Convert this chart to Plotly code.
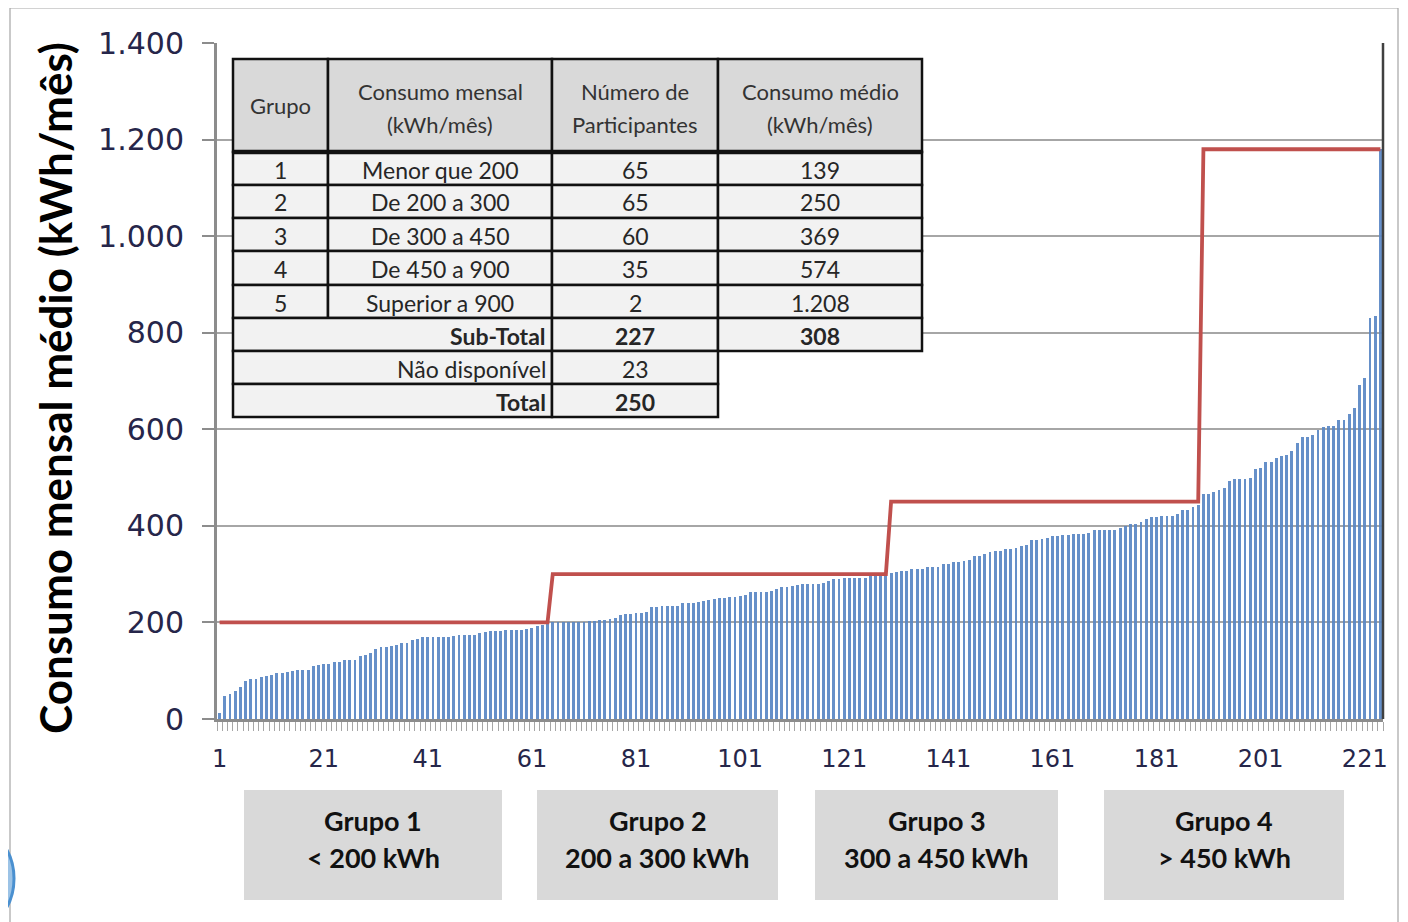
import plotly.graph_objects as go

# ---------------- data ----------------
consumo = [
    12, 47, 51, 58, 67, 78, 83, 83, 87, 90, 92, 95, 96, 97, 99, 101, 102, 102, 110, 111,
    113, 113, 118, 118, 122, 123, 123, 130, 132, 136, 145, 149, 150, 152, 154, 157, 157, 163, 166, 170,
    170, 170, 170, 170, 170, 172, 173, 173, 175, 175, 179, 180, 182, 182, 183, 184, 184, 184, 184, 187,
    189, 193, 195, 199, 200,
    200, 200, 200, 200, 200, 201, 203, 204, 205, 206, 207, 210, 215, 217, 218, 219, 220, 221, 231, 232,
    234, 234, 235, 235, 240, 240, 241, 243, 244, 247, 248, 251, 251, 252, 252, 255, 257, 262, 262, 263,
    263, 266, 269, 274, 274, 275, 277, 279, 279, 280, 280, 281, 285, 290, 290, 291, 291, 292, 292, 293,
    296, 300, 301, 302,
    303, 305, 306, 306, 310, 311, 311, 314, 315, 315, 320, 320, 325, 325, 327, 330, 338, 338, 342, 346,
    347, 347, 352, 353, 354, 358, 360, 370, 370, 373, 375, 378, 378, 382, 382, 384, 384, 384, 386, 391,
    391, 392, 392, 392, 395, 399, 404, 404, 409, 414,
    419, 419, 420, 420, 421, 424, 433, 433, 440, 443, 465, 467, 470, 474, 478, 492, 497, 497, 498, 499,
    517, 520, 532, 532, 540, 544, 547, 556, 571, 583, 584, 588, 599, 605, 607, 607, 619, 619, 631, 644,
    692, 706, 830, 835, 1180,
]
participante = list(range(1, len(consumo) + 1))

limite_niveis = [200, 300, 450, 1180]
limite_tamanhos = [64, 65, 60, 35]
limite = []
for nivel, n in zip(limite_niveis, limite_tamanhos):
    limite += [nivel] * n

y_ticks = [0, 200, 400, 600, 800, 1000, 1200, 1400]
y_tick_labels = ["0", "200", "400", "600", "800", "1.000", "1.200", "1.400"]
x_ticks = [1, 21, 41, 61, 81, 101, 121, 141, 161, 181, 201, 221]
x_tick_labels = [str(v) for v in x_ticks]

tabela_cabecalho = [["Grupo"], ["Consumo mensal", "(kWh/mês)"], ["Número de", "Participantes"],
                    ["Consumo médio", "(kWh/mês)"]]
tabela_grupo = ["1", "2", "3", "4", "5"]
tabela_faixa = ["Menor que 200", "De 200 a 300", "De 300 a 450", "De 450 a 900", "Superior a 900"]
tabela_numero = ["65", "65", "60", "35", "2"]
tabela_media = ["139", "250", "369", "574", "1.208"]
resumo_rotulos = ["Sub-Total", "Não disponível", "Total"]
resumo_numero = ["227", "23", "250"]
resumo_media = ["308", None, None]
resumo_negrito = [True, False, True]

caixas_titulo = ["Grupo 1", "Grupo 2", "Grupo 3", "Grupo 4"]
caixas_faixa = ["&lt; 200 kWh", "200 a 300 kWh", "300 a 450 kWh", "&gt; 450 kWh"]

# ---------------- layout helpers (reference pixel -> paper) ----------------
OFF = 8                      # page body margin of the browser
W, H = 1408 - OFF, 922 - OFF
L, R, T, B = 217, 1383, 43, 719


def px(x):
    return (x - L) / (R - L)


def py(y):
    return (B - y) / (B - T)


fig = go.Figure()
fig.add_bar(x=participante, y=consumo, width=0.55,
            marker=dict(color="#5A87C5", line_width=0), opacity=0.92)
fig.add_scatter(x=participante, y=limite, mode="lines",
                line=dict(color="#C0504D", width=3.8))

shapes = []
annotations = []

# right border of plot area
shapes.append(dict(type="line", xref="paper", yref="paper", x0=1, x1=1, y0=0, y1=1,
                   line=dict(color="#404040", width=2.5)))
# outer frame of the chart
shapes.append(dict(type="rect", xref="paper", yref="paper", x0=px(10), x1=px(1398),
                   y0=py(950), y1=py(8), line=dict(color="#A6A6A6", width=1.2),
                   fillcolor="rgba(0,0,0,0)", layer="below"))
# decorative blue arc bottom-left
shapes.append(dict(type="circle", xref="paper", yref="paper", x0=px(-90), x1=px(14),
                   y0=py(935), y1=py(822), fillcolor="#9CC3E6",
                   line=dict(color="#4A90D0", width=3)))

# ---------------- table ----------------
cols = [233, 328, 552, 718, 922]
rows = [59, 152, 185, 218, 251, 285, 318, 351, 384, 417]
tfont = dict(family="Lato", size=23, color="#262626")
hfont = dict(family="Lato", size=22, color="#333333")
border = dict(color="#111111", width=2.5)


def cell(x0, x1, y0, y1, fill):
    shapes.append(dict(type="rect", xref="paper", yref="paper", x0=px(x0), x1=px(x1),
                       y0=py(y1), y1=py(y0), fillcolor=fill, line=border))


def text(xc, yc, s, bold=False, xanchor="center", font=tfont):
    annotations.append(dict(xref="paper", yref="paper", x=px(xc), y=py(yc),
                            text=("<b>%s</b>" % s) if bold else s, showarrow=False,
                            xanchor=xanchor, yanchor="middle", font=font))


# header
for c in range(4):
    cell(cols[c], cols[c + 1], rows[0], rows[1], "#D9D9D9")
    xc = (cols[c] + cols[c + 1]) / 2
    linhas = tabela_cabecalho[c]
    if len(linhas) == 1:
        text(xc, (rows[0] + rows[1]) / 2, linhas[0], font=hfont)
    else:
        text(xc, 91, linhas[0], font=hfont)
        text(xc, 124, linhas[1], font=hfont)
# data rows
for r in range(5):
    y0, y1 = rows[r + 1], rows[r + 2]
    vals = [tabela_grupo[r], tabela_faixa[r], tabela_numero[r], tabela_media[r]]
    for c in range(4):
        cell(cols[c], cols[c + 1], y0, y1, "#F2F2F2")
        text((cols[c] + cols[c + 1]) / 2, (y0 + y1) / 2 + 1, vals[c])
# summary rows
for i in range(3):
    y0, y1 = rows[6 + i], rows[7 + i]
    cell(cols[0], cols[2], y0, y1, "#F2F2F2")
    cell(cols[2], cols[3], y0, y1, "#F2F2F2")
    text(cols[2] - 4, (y0 + y1) / 2 + 1, resumo_rotulos[i], bold=resumo_negrito[i], xanchor="right")
    text((cols[2] + cols[3]) / 2, (y0 + y1) / 2 + 1, resumo_numero[i], bold=resumo_negrito[i])
    if resumo_media[i] is not None:
        cell(cols[3], cols[4], y0, y1, "#F2F2F2")
        text((cols[3] + cols[4]) / 2, (y0 + y1) / 2 + 1, resumo_media[i], bold=True)
# thick header separator
shapes.append(dict(type="line", xref="paper", yref="paper", x0=px(cols[0]), x1=px(cols[4]),
                   y0=py(rows[1]), y1=py(rows[1]), line=dict(color="#111111", width=4.5)))

# ---------------- group boxes below the axis ----------------
caixas_x = [(244, 502), (537, 778), (815, 1058), (1104, 1344)]
for (x0, x1), t1, t2 in zip(caixas_x, caixas_titulo, caixas_faixa):
    shapes.append(dict(type="rect", xref="paper", yref="paper", x0=px(x0), x1=px(x1),
                       y0=py(900), y1=py(790), fillcolor="#D9D9D9", line=dict(width=0)))
    annotations.append(dict(xref="paper", yref="paper", x=px((x0 + x1) / 2), y=py(820),
                            text="<b>%s</b>" % t1, showarrow=False, xanchor="center",
                            yanchor="middle", font=dict(family="Lato", size=27, color="#111111")))
    annotations.append(dict(xref="paper", yref="paper", x=px((x0 + x1) / 2), y=py(857),
                            text="<b>%s</b>" % t2, showarrow=False, xanchor="center",
                            yanchor="middle", font=dict(family="Lato", size=27, color="#111111")))

# y axis title
annotations.append(dict(xref="paper", yref="paper", x=px(55), y=py(388),
                        text="<b>Consumo mensal médio (kWh/mês)</b>", textangle=-90,
                        showarrow=False, xanchor="center", yanchor="middle",
                        font=dict(family="Lato", size=44, color="#000000")))

fig.update_layout(
    width=W, height=H,
    margin=dict(l=L - OFF, r=W - (R - OFF), t=T - OFF, b=H - (B - OFF), autoexpand=False),
    plot_bgcolor="white", paper_bgcolor="white",
    showlegend=False, bargap=0,
    shapes=shapes, annotations=annotations,
    xaxis=dict(range=[0.5, len(consumo) + 0.5], tickvals=x_ticks, ticktext=x_tick_labels,
               ticks="", showgrid=False, zeroline=False,
               showline=True, linecolor="#8C8C8C", linewidth=3,
               tickfont=dict(family="DejaVu Sans", size=24, color="#26264A"),
               ticklabelstandoff=16,
               minor=dict(ticks="outside", ticklen=9, tickcolor="#A6A6A6", tickwidth=1,
                          dtick=1, tick0=0.5, showgrid=False)),
    yaxis=dict(range=[0, 1400], tickvals=y_ticks, ticktext=y_tick_labels,
               showgrid=True, gridcolor="#A6A6A6", gridwidth=1.5, zeroline=False,
               showline=True, linecolor="#8C8C8C", linewidth=3,
               ticks="outside", ticklen=12, tickcolor="#8C8C8C", tickwidth=1.5,
               tickfont=dict(family="DejaVu Sans", size=30, color="#26264A"),
               ticklabelstandoff=12),
)

fig.write_html("out.html")
